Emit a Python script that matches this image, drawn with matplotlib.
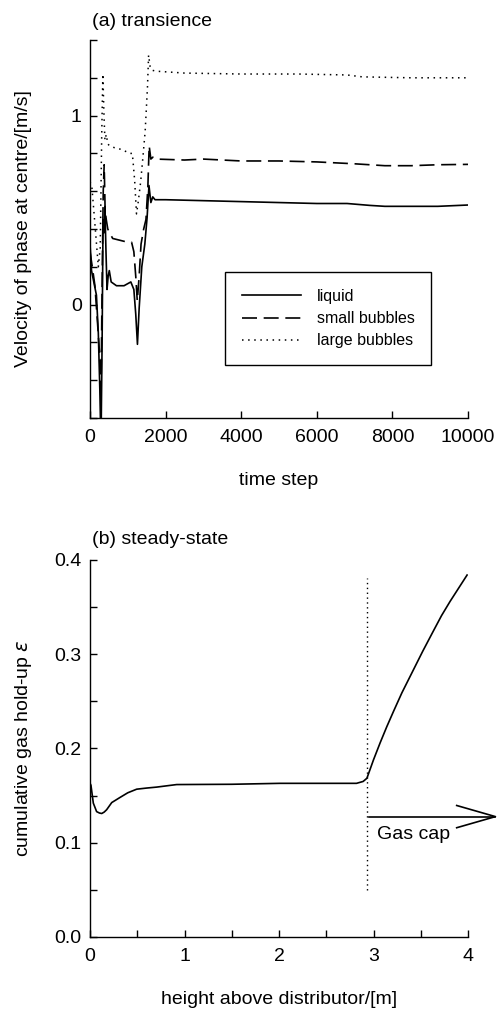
import matplotlib
matplotlib.use('Agg')
import matplotlib.pyplot as plt
from matplotlib.ticker import MultipleLocator, FixedLocator

plt.rcParams['font.family'] = ['Liberation Sans', 'DejaVu Sans']
plt.rcParams['font.size'] = 14

# ---- (a) transience: velocity of each phase at the centre ----
t_liquid = [0, 40, 100, 170, 220, 260, 290, 320, 345, 370, 395, 420, 450, 480, 510, 560,
            700, 900, 1080, 1160, 1210, 1255, 1300, 1370, 1450, 1510, 1560, 1610, 1660, 1720,
            2000, 3000, 4000, 5000, 6000, 6800, 7400, 7800, 8500, 9200, 10000]
v_liquid = [0.32, 0.18, 0.12, 0.05, -0.15, -0.45, -0.75, -0.2, 0.45, 0.38, 0.52, 0.30, 0.08, 0.15, 0.18, 0.12,
            0.10, 0.10, 0.12, 0.08, -0.05, -0.21, -0.02, 0.20, 0.32, 0.46, 0.63, 0.54, 0.57, 0.555,
            0.555, 0.55, 0.545, 0.54, 0.535, 0.535, 0.525, 0.52, 0.52, 0.52, 0.527]

t_small = [0, 60, 130, 200, 250, 290, 320, 350, 375, 400, 430, 470, 520, 600, 800, 1000, 1100,
           1160, 1210, 1250, 1300, 1350, 1420, 1480, 1530, 1565, 1610, 1660, 1750, 2500, 3000,
           4000, 5000, 6000, 7000, 7800, 8500, 9200, 10000]
v_small = [0.28, 0.2, 0.1, -0.1, -0.25, -0.5, 0.1, 0.6, 0.74, 0.5, 0.45, 0.40, 0.38, 0.35, 0.34, 0.33, 0.33,
           0.28, 0.15, 0.02, 0.15, 0.32, 0.40, 0.45, 0.62, 0.84, 0.77, 0.78, 0.77, 0.765, 0.77,
           0.76, 0.76, 0.755, 0.745, 0.735, 0.735, 0.74, 0.742]

t_large = [0, 50, 100, 160, 220, 270, 310, 340, 370, 395, 430, 470, 520, 650, 850, 1050, 1120,
           1180, 1230, 1280, 1340, 1400, 1460, 1520, 1550, 1590, 1640, 1750, 2500, 4000, 5500,
           6800, 7200, 8500, 10000]
v_large = [0.65, 0.62, 0.5, 0.35, 0.2, 0.3, 0.9, 1.22, 1.0, 0.87, 0.9, 0.85, 0.84, 0.83, 0.82, 0.80, 0.80,
           0.66, 0.48, 0.55, 0.65, 0.78, 0.92, 1.15, 1.32, 1.26, 1.24, 1.235, 1.225, 1.22, 1.22,
           1.215, 1.205, 1.20, 1.20]

# ---- (b) steady-state: cumulative gas hold-up vs height ----
height = [0, 0.01, 0.035, 0.07, 0.1, 0.124, 0.15, 0.176, 0.23, 0.317, 0.4, 0.494, 0.6, 0.705,
          0.917, 1.5, 2.01, 2.5, 2.82, 2.89, 2.93, 3.0, 3.07, 3.14, 3.21, 3.3, 3.42, 3.52,
          3.63, 3.72, 3.81, 3.9, 3.99]
holdup = [0.163, 0.161, 0.142, 0.133, 0.1315, 0.131, 0.1325, 0.135, 0.1426, 0.148, 0.153, 0.1568,
          0.158, 0.159, 0.1617, 0.162, 0.163, 0.163, 0.163, 0.165, 0.1684, 0.188, 0.206, 0.223,
          0.239, 0.259, 0.283, 0.303, 0.324, 0.341, 0.356, 0.370, 0.384]
gas_cap_x = 2.93
gas_cap_span = (0.05, 0.381)
arrow_y = 0.1277
arrow_x = (2.95, 4.29)

fig = plt.figure(figsize=(4.97, 10.10), dpi=100)
ax1 = fig.add_axes([0.1811, 0.5861, 0.7606, 0.3743])
ax2 = fig.add_axes([0.1811, 0.0723, 0.7606, 0.3733])

for ax in (ax1, ax2):
    ax.spines['top'].set_visible(False)
    ax.spines['right'].set_visible(False)
    ax.spines['left'].set_linewidth(1.0)
    ax.spines['bottom'].set_linewidth(1.0)
    ax.tick_params(which='both', direction='in', length=5, width=1.0, labelsize=14)
    ax.tick_params(axis='y', which='both', pad=6)
    ax.tick_params(axis='x', which='both', pad=8)

# ============ Plot (a) ============
ax1.plot(t_liquid, v_liquid, color='black', lw=1.2, label='liquid')
ax1.plot(t_small, v_small, color='black', lw=1.2, linestyle=(0, (9, 4)), label='small bubbles')
ax1.plot(t_large, v_large, color='black', lw=1.1, linestyle=(0, (1, 3)), label='large bubbles')
ax1.set_xlim(0, 10000)
ax1.set_ylim(-0.6, 1.4)
ax1.set_xticks([0, 2000, 4000, 6000, 8000, 10000])
ax1.set_yticks([0, 1])
ax1.yaxis.set_minor_locator(FixedLocator([-0.6, -0.4, -0.2, 0.2, 0.4, 0.6, 0.8, 1.2, 1.4]))
ax1.set_xlabel('time step')
ax1.xaxis.set_label_coords(0.5, -0.164)
ax1.xaxis.label.set_va('center')
ax1.set_ylabel('Velocity of phase at centre/[m/s]')
ax1.yaxis.set_label_coords(-0.177, 0.5)
ax1.yaxis.label.set_va('center')

leg = ax1.legend(loc='upper left', bbox_to_anchor=(0.336, 0.407), fontsize=11.5,
                 handlelength=3.7, handletextpad=1.0, labelspacing=0.45, borderpad=1.05,
                 fancybox=False, framealpha=1, edgecolor='black')
leg.get_frame().set_linewidth(1.0)

fig.text(92 / 497, 1 - 22 / 1010, '(a) transience', fontsize=14, ha='left', va='center')

# ============ Plot (b) ============
ax2.plot(height, holdup, color='black', lw=1.2)
ax2.plot([gas_cap_x, gas_cap_x], gas_cap_span, color='black', lw=1.0, linestyle=(0, (1, 2.5)))

# open arrow "Gas cap" (shaft + two head strokes), running past the axes edge
head_len, head_half = 0.41, 0.0118
ax2.plot(arrow_x, [arrow_y, arrow_y], color='black', lw=1.2, clip_on=False)
ax2.plot([arrow_x[1] - head_len, arrow_x[1], arrow_x[1] - head_len],
         [arrow_y + head_half, arrow_y, arrow_y - head_half],
         color='black', lw=1.2, clip_on=False)
ax2.text(3.04, 0.109, 'Gas cap', fontsize=14, ha='left', va='center')

ax2.set_xlim(0, 4)
ax2.set_ylim(0, 0.4)
ax2.xaxis.set_major_locator(MultipleLocator(1))
ax2.xaxis.set_minor_locator(MultipleLocator(0.5))
ax2.yaxis.set_major_locator(MultipleLocator(0.1))
ax2.yaxis.set_minor_locator(MultipleLocator(0.05))
ax2.yaxis.set_major_formatter(plt.FormatStrFormatter('%.1f'))
ax2.set_xlabel('height above distributor/[m]')
ax2.xaxis.set_label_coords(0.5, -0.167)
ax2.xaxis.label.set_va('center')
ax2.set_ylabel(r'cumulative gas hold-up $\varepsilon$')
ax2.yaxis.set_label_coords(-0.177, 0.5)
ax2.yaxis.label.set_va('center')

fig.text(92 / 497, 1 - 540 / 1010, '(b) steady-state', fontsize=14, ha='left', va='center')

plt.savefig('out.png', dpi=100)
